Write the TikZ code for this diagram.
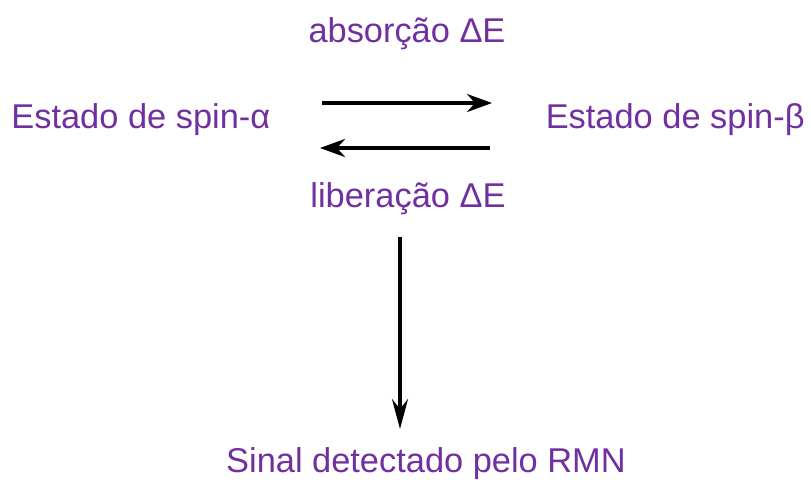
\documentclass[tikz,border=0pt]{standalone}
\usepackage{fontspec}
\setmainfont{Liberation Sans}
\usetikzlibrary{arrows.meta}
\definecolor{txtpurple}{HTML}{7030A0}
\tikzset{
  lbl/.style={text=txtpurple, font=\fontsize{17.2pt}{20pt}\selectfont, inner sep=0pt},
  conn/.style={line width=1.8pt, -{Stealth[length=12.5pt,width=9pt,inset=4pt]}},
}
\begin{document}
\begin{tikzpicture}[x=0.5pt,y=-0.5pt]
\useasboundingbox (0,0) rectangle (811,479);
\node[lbl, anchor=base] (abs) at (407,42) {absorção ΔE};
\node[lbl, anchor=base west] (alpha) at (11,128) {Estado de spin-α};
\node[lbl, anchor=base east] (beta) at (805,128) {Estado de spin-β};
\node[lbl, anchor=base] (lib) at (408,207) {liberação ΔE};
\node[lbl, anchor=base] (sig) at (426,472) {Sinal detectado pelo RMN};
\coordinate (a1) at (322,103);
\coordinate (a2) at (492,103);
\coordinate (b1) at (490,148);
\coordinate (b2) at (320,148);
\coordinate (c1) at (400,237);
\coordinate (c2) at (400,429);
\draw[conn, line width=1.6pt] (a1) -- (a2);
\draw[conn, line width=2pt] (b1) -- (b2);
\draw[conn, line width=2pt, -{Stealth[length=15pt,width=8pt,inset=5pt]}] (c1) -- (c2);
\end{tikzpicture}
\end{document}
